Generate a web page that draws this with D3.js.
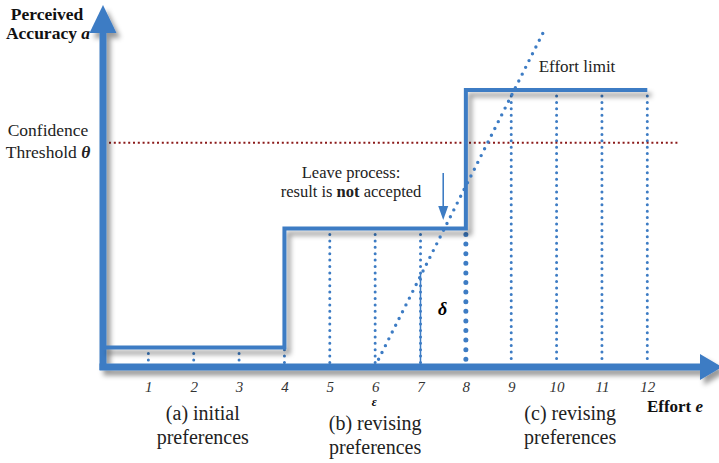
<!DOCTYPE html>
<html>
<head>
<meta charset="utf-8">
<script src="https://cdn.jsdelivr.net/npm/d3@7"></script>
<style>
  body { margin: 0; background: #fff; }
  svg { display: block; font-family: "Liberation Serif", "Times New Roman", serif; }
</style>
</head>
<body>
<div id="chart"></div>
<script>
// effort ticks along the bottom
var effortTicks = [1, 2, 3, 4, 5, 6, 7, 8, 9, 10, 11, 12];
// accuracy where each dotted drop line starts
var dropLevel = [0.07, 0.07, 0.07, 0.5, 0.5, 0.5, 0.5, 0.5, 1.0, 1.0, 1.0, 1.0];
// step function of perceived accuracy (levels start at these efforts)
var stepEffort = [0, 4, 8, 12];
var stepAccuracy = [0.07, 0.5, 1.0, 1.0];
var threshold = 0.81;
// dotted trend line (effort, accuracy)
var trendEffort = [6, 9.7];
var trendAccuracy = [0, 1.206];
var deltaEffort = 7;
var phaseLabels = [
  { e: 2.2, lines: ["(a) initial", "preferences"], dy: 0 },
  { e: 6.0, lines: ["(b) revising", "preferences"], dy: 10 },
  { e: 10.3, lines: ["(c) revising", "preferences"], dy: 0 }
];

var width = 719, height = 463;
var blue = "#3d7cc4";

var svg = d3.select("#chart").append("svg")
  .attr("width", width)
  .attr("height", height);

var defs = svg.append("defs");
defs.append("filter").attr("id", "shadow")
    .attr("x", "-10%").attr("y", "-10%").attr("width", "130%").attr("height", "130%")
  .append("feDropShadow")
    .attr("dx", 4).attr("dy", 5)
    .attr("stdDeviation", 2.4)
    .attr("flood-color", "#000")
    .attr("flood-opacity", 0.4);

var x = d3.scaleLinear().domain([0, 12]).range([103, 647.3]);
var y = d3.scaleLinear().domain([0, 1]).range([367, 90]);

function trendAt(e) {
  var t = (e - trendEffort[0]) / (trendEffort[1] - trendEffort[0]);
  return trendAccuracy[0] + t * (trendAccuracy[1] - trendAccuracy[0]);
}

// dotted drop lines
svg.append("g")
  .selectAll("line")
  .data(effortTicks)
  .join("line")
    .attr("x1", d => x(d))
    .attr("x2", d => x(d))
    .attr("y1", (d, i) => y(dropLevel[i]) + 6)
    .attr("y2", y(0) - 3)
    .attr("stroke", blue)
    .attr("stroke-linecap", "round")
    .attr("stroke-width", d => d == 8 ? 5 : 3)
    .attr("stroke-dasharray", d => d == 8 ? "0 9.6" : "0 6.4");

// confidence threshold
svg.append("line")
  .attr("x1", x(0) + 6).attr("x2", x(12.7))
  .attr("y1", y(threshold)).attr("y2", y(threshold))
  .attr("stroke", "#8b1a1a")
  .attr("stroke-width", 2)
  .attr("stroke-dasharray", "2 2.8");

// axes with shadow
var axes = svg.append("g").attr("filter", "url(#shadow)");
axes.append("line")
  .attr("x1", x(0)).attr("x2", x(0))
  .attr("y1", y(0) + 3).attr("y2", 30)
  .attr("stroke", blue).attr("stroke-width", 7);
axes.append("path")
  .attr("d", d3.line()([[x(0) - 13.5, 33], [x(0) + 13.5, 33], [x(0), 5]]))
  .attr("fill", blue);
axes.append("line")
  .attr("x1", x(0) - 3.5).attr("x2", 702)
  .attr("y1", y(0)).attr("y2", y(0))
  .attr("stroke", blue).attr("stroke-width", 7);
axes.append("path")
  .attr("d", d3.line()([[700, y(0) - 13], [700, y(0) + 13], [722, y(0)]]))
  .attr("fill", blue);

// step line
svg.append("path")
  .datum(d3.zip(stepEffort, stepAccuracy))
  .attr("d", d3.line().x(d => x(d[0])).y(d => y(d[1])).curve(d3.curveStepAfter))
  .attr("fill", "none")
  .attr("stroke", blue)
  .attr("stroke-width", 4)
  .attr("filter", "url(#shadow)");

// trend (dotted diagonal)
svg.append("line")
  .attr("x1", x(trendEffort[0])).attr("y1", y(trendAccuracy[0]) - 1)
  .attr("x2", x(trendEffort[1])).attr("y2", y(trendAccuracy[1]))
  .attr("stroke", blue)
  .attr("stroke-width", 3.4)
  .attr("stroke-linecap", "round")
  .attr("stroke-dasharray", "0 7.6");

// delta segment
svg.append("line")
  .attr("x1", x(deltaEffort)).attr("x2", x(deltaEffort))
  .attr("y1", y(trendAt(deltaEffort)) - 4).attr("y2", y(0) - 3)
  .attr("stroke", blue).attr("stroke-width", 1.5);
svg.append("text")
  .attr("x", x(deltaEffort) + 22).attr("y", 315)
  .attr("text-anchor", "middle")
  .attr("font-size", 18).attr("font-weight", "bold").attr("font-style", "italic")
  .text("δ");

// tick labels
var xAxis = svg.append("g")
  .attr("transform", "translate(0," + y(0) + ")")
  .call(d3.axisBottom(x).tickValues(effortTicks).tickSize(0).tickPadding(14));
xAxis.select(".domain").remove();
xAxis.selectAll("text")
  .attr("font-family", "Liberation Serif, serif")
  .attr("font-size", 15)
  .attr("font-style", "italic")
  .attr("fill", "#333");

svg.append("text")
  .attr("x", x(6) - 1).attr("y", 406)
  .attr("text-anchor", "middle")
  .attr("font-size", 12).attr("font-weight", "bold").attr("font-style", "italic")
  .text("ε");

// leave process arrow at the point where the trend crosses level 2
var crossE = trendEffort[0] + (0.5 - trendAccuracy[0]) / (trendAccuracy[1] - trendAccuracy[0]) * (trendEffort[1] - trendEffort[0]);
svg.append("line")
  .attr("x1", x(crossE) - 1.5).attr("x2", x(crossE) - 1.5)
  .attr("y1", 173).attr("y2", 208)
  .attr("stroke", blue).attr("stroke-width", 1.6);
svg.append("path")
  .attr("d", d3.line()([[x(crossE) - 6.5, 206], [x(crossE) + 3.5, 206], [x(crossE) - 1.5, 220]]))
  .attr("fill", blue);

var leave = svg.append("text")
  .attr("text-anchor", "middle")
  .attr("font-size", 16.5)
  .attr("fill", "#222");
leave.append("tspan").attr("x", 351).attr("y", 178).text("Leave process:");
var l2 = leave.append("tspan").attr("x", 351).attr("y", 197);
l2.append("tspan").text("result is ");
l2.append("tspan").attr("font-weight", "bold").text("not");
l2.append("tspan").text(" accepted");

svg.append("text")
  .attr("x", 577).attr("y", 72)
  .attr("text-anchor", "middle")
  .attr("font-size", 17).attr("fill", "#222")
  .text("Effort limit");

// y axis title and threshold label
var yTitle = svg.append("text")
  .attr("text-anchor", "middle")
  .attr("font-size", 17.5).attr("font-weight", "bold").attr("fill", "#111");
yTitle.append("tspan").attr("x", 47).attr("y", 20).text("Perceived");
var yt2 = yTitle.append("tspan").attr("x", 48).attr("y", 39);
yt2.append("tspan").text("Accuracy ");
yt2.append("tspan").attr("font-style", "italic").text("a");

var thr = svg.append("text")
  .attr("text-anchor", "middle")
  .attr("font-size", 17.5).attr("fill", "#222");
thr.append("tspan").attr("x", 48).attr("y", 136).text("Confidence");
var thr2 = thr.append("tspan").attr("x", 48).attr("y", 158);
thr2.append("tspan").text("Threshold ");
thr2.append("tspan").attr("font-style", "italic").attr("font-weight", "bold").text("θ");

// x axis title
var xTitle = svg.append("text")
  .attr("x", 675).attr("y", 412)
  .attr("text-anchor", "middle")
  .attr("font-size", 17).attr("font-weight", "bold").attr("fill", "#111");
xTitle.append("tspan").text("Effort ");
xTitle.append("tspan").attr("font-style", "italic").text("e");

// phase labels
svg.append("g")
  .selectAll("text")
  .data(phaseLabels)
  .join("text")
    .attr("text-anchor", "middle")
    .attr("font-size", 20)
    .attr("fill", "#222")
    .each(function(d) {
      var t = d3.select(this);
      d.lines.forEach(function(line, i) {
        t.append("tspan")
          .attr("x", x(d.e))
          .attr("y", 420 + d.dy + i * 24)
          .text(line);
      });
    });
</script>
</body>
</html>
